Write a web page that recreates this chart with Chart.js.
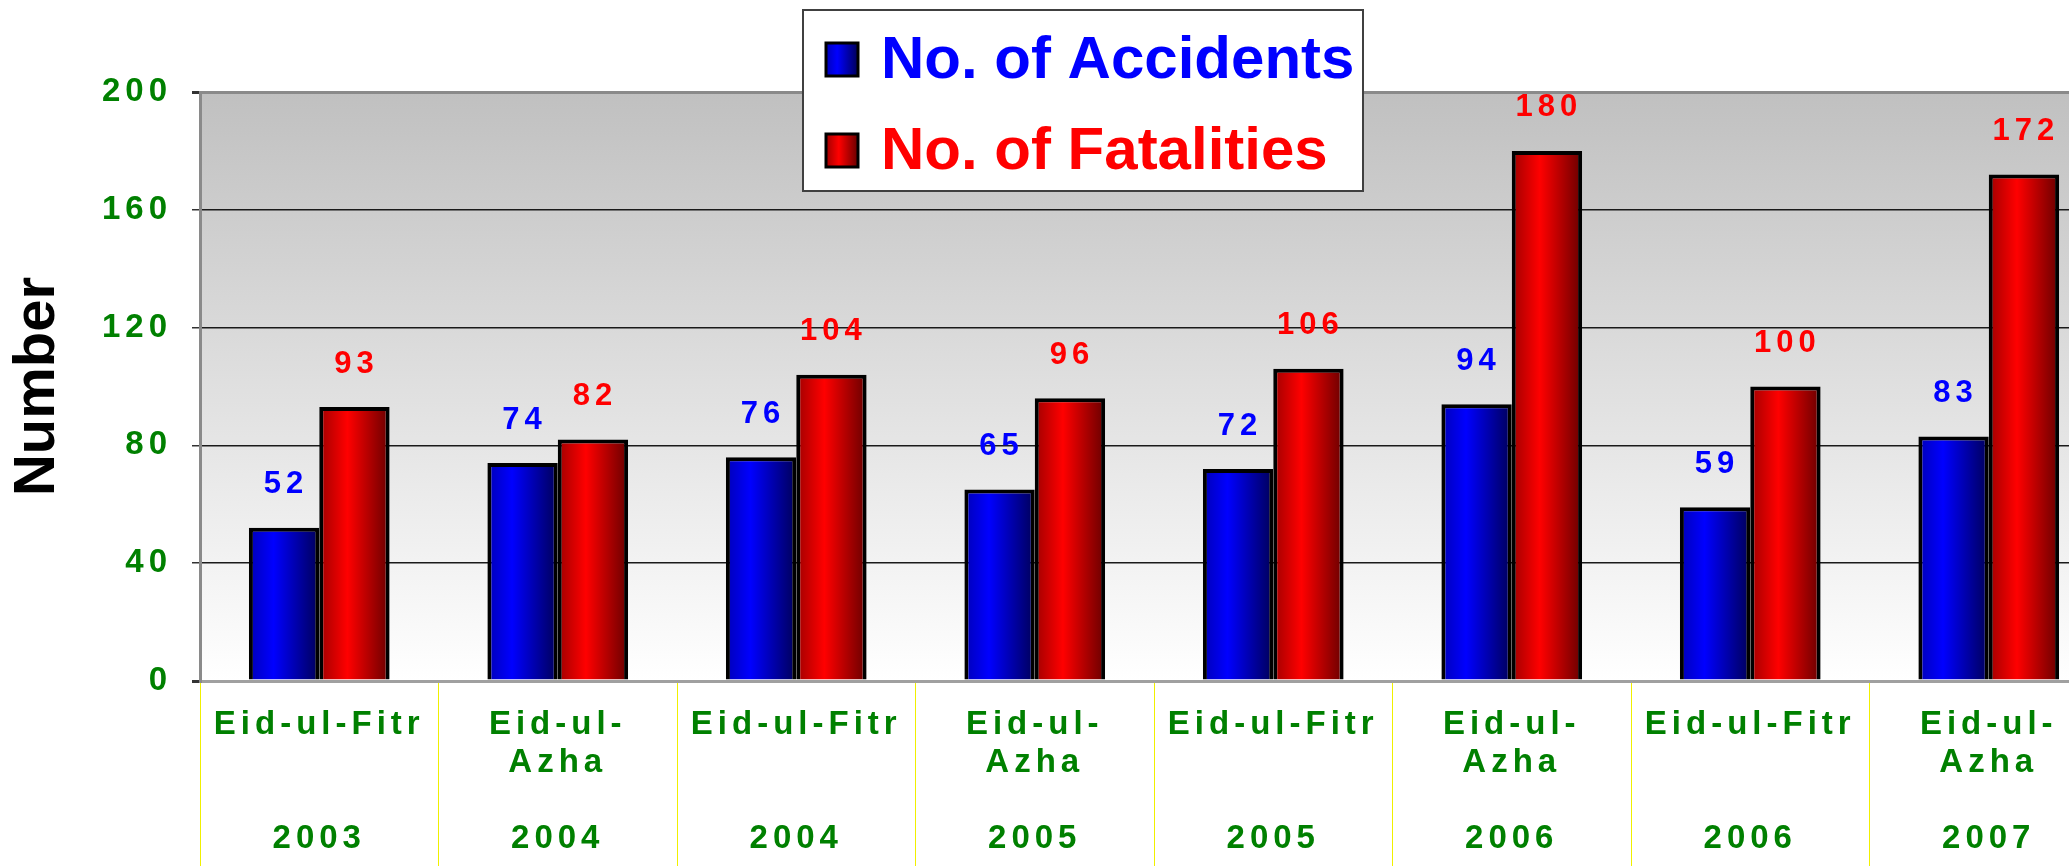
<!DOCTYPE html>
<html>
<head>
<meta charset="utf-8">
<title>Eid accidents and fatalities</title>
<script src="https://cdn.jsdelivr.net/npm/chart.js@4.4.1/dist/chart.umd.min.js"></script>
<style>
  html, body { margin: 0; padding: 0; background: #fff; overflow: hidden; }
  #wrap { width: 2110px; height: 866px; }
</style>
</head>
<body>
<div id="wrap"><canvas id="chart" width="2110" height="866"></canvas></div>
<script>
const festivals = ['Eid-ul-Fitr', 'Eid-ul-Azha', 'Eid-ul-Fitr', 'Eid-ul-Azha', 'Eid-ul-Fitr', 'Eid-ul-Azha', 'Eid-ul-Fitr', 'Eid-ul-Azha'];
const years = ['2003', '2004', '2004', '2005', '2005', '2006', '2006', '2007'];
const accidents = [52, 74, 76, 65, 72, 94, 59, 83];
const fatalities = [93, 82, 104, 96, 106, 180, 100, 172];
const yTicks = [0, 40, 80, 120, 160, 200];

const SANS = "'Liberation Sans', Arial, sans-serif";
const GREEN = '#008000';
const CAT_PCT = 0.59;

// Azha labels wrap onto two lines in the original, Fitr fits on one
const labels = festivals.map((name, i) => {
  const head = name === 'Eid-ul-Azha' ? ['Eid-ul-', 'Azha'] : [name, ''];
  return [...head, '', years[i]];
});

const blueStops = [[0, '#0000b8'], [0.35, '#0000ff'], [1, '#000058']];
const redStops = [[0, '#a00000'], [0.4, '#ff0000'], [1, '#680000']];

function hGradient(ctx, left, right, stops) {
  const g = ctx.createLinearGradient(left, 0, right, 0);
  stops.forEach(s => g.addColorStop(s[0], s[1]));
  return g;
}

function barFill(stops) {
  return c => {
    const chart = c.chart;
    const x = chart.scales.x;
    if (!x || !chart.chartArea) return stops[1][1];
    const center = x.getPixelForValue(c.dataIndex);
    const w = x.width / labels.length * CAT_PCT / 2;
    const left = center - w + c.datasetIndex * w;
    return hGradient(chart.ctx, left, left + w, stops);
  };
}

const plotBackground = {
  id: 'plotBackground',
  beforeDraw(chart) {
    const { ctx, chartArea: a } = chart;
    ctx.letterSpacing = '0px';
    const g = ctx.createLinearGradient(0, a.top, 0, a.bottom);
    g.addColorStop(0, '#c0c0c0');
    g.addColorStop(1, '#ffffff');
    ctx.save();
    ctx.fillStyle = g;
    ctx.fillRect(a.left, a.top, a.right - a.left, a.bottom - a.top);
    ctx.restore();
  }
};

const valueLabels = {
  id: 'valueLabels',
  afterDatasetsDraw(chart) {
    const ctx = chart.ctx;
    // tick labels (z: 1) are drawn after this, so they pick up the spacing too
    ctx.letterSpacing = '5px';
    ctx.save();
    ctx.font = `bold 31px ${SANS}`;
    ctx.textAlign = 'center';
    ctx.textBaseline = 'middle';
    chart.data.datasets.forEach((ds, di) => {
      ctx.fillStyle = ds.labelColor;
      chart.getDatasetMeta(di).data.forEach((bar, i) => {
        ctx.fillText(String(ds.data[i]), bar.x + 2, bar.y - 43);
      });
    });
    ctx.restore();
  }
};

const boxLegend = {
  id: 'boxLegend',
  afterDraw(chart) {
    const ctx = chart.ctx;
    ctx.save();
    ctx.letterSpacing = '0px';
    ctx.fillStyle = '#fff';
    ctx.fillRect(803, 10, 560, 181);
    ctx.strokeStyle = '#404040';
    ctx.lineWidth = 2;
    ctx.strokeRect(803, 10, 560, 181);
    const rows = [59, 150];
    chart.data.datasets.forEach((ds, i) => {
      const y = rows[i];
      ctx.fillStyle = hGradient(ctx, 826, 858, ds.stops);
      ctx.fillRect(826, y - 16, 32, 33);
      ctx.strokeStyle = '#000';
      ctx.lineWidth = 3;
      ctx.strokeRect(826, y - 16, 32, 33);
      ctx.fillStyle = ds.labelColor;
      ctx.font = `bold 60px ${SANS}`;
      ctx.textBaseline = 'middle';
      ctx.textAlign = 'left';
      ctx.fillText(ds.label, 881, y + 2);
    });
    ctx.restore();
  }
};

const tickFont = { family: SANS, size: 33, weight: 'bold', lineHeight: 1.15 };

new Chart(document.getElementById('chart'), {
  type: 'bar',
  data: {
    labels: labels,
    datasets: [
      { label: 'No. of Accidents', data: accidents, backgroundColor: barFill(blueStops), labelColor: '#0000ff', stops: blueStops },
      { label: 'No. of Fatalities', data: fatalities, backgroundColor: barFill(redStops), labelColor: '#ff0000', stops: redStops }
    ]
  },
  options: {
    responsive: false,
    animation: false,
    layout: { padding: { top: 92, right: 2, left: 0, bottom: 0 } },
    datasets: {
      bar: { categoryPercentage: CAT_PCT, barPercentage: 1, borderColor: '#000', borderWidth: 4 }
    },
    plugins: {
      legend: { display: false },
      tooltip: { enabled: false }
    },
    scales: {
      x: {
        grid: { offset: true, drawOnChartArea: false, drawTicks: true, tickLength: 185, color: '#f0f000', lineWidth: 1 },
        border: { color: '#a0a0a0', width: 3 },
        ticks: { z: 1, color: GREEN, font: tickFont, padding: -160, maxRotation: 0, autoSkip: false },
        afterFit: s => { s.height = 185; }
      },
      y: {
        min: 0,
        max: 200,
        afterBuildTicks: s => { s.ticks = yTicks.map(v => ({ value: v })); },
        grid: {
          color: c => (c.tick && (c.tick.value === 0 || c.tick.value === 200)) ? '#8a8a8a' : '#1a1a1a',
          lineWidth: c => (c.tick && (c.tick.value === 0 || c.tick.value === 200)) ? 3 : 1.5,
          tickLength: 8,
          tickColor: '#333'
        },
        border: { color: '#8a8a8a', width: 3 },
        ticks: { z: 1, color: GREEN, font: tickFont, padding: 20 },
        title: { display: true, text: 'Number', color: '#000', font: { family: SANS, size: 58, weight: 'bold' }, padding: { top: 3 } },
        afterFit: s => { s.width = 200; }
      }
    }
  },
  plugins: [plotBackground, valueLabels, boxLegend]
});
</script>
</body>
</html>
